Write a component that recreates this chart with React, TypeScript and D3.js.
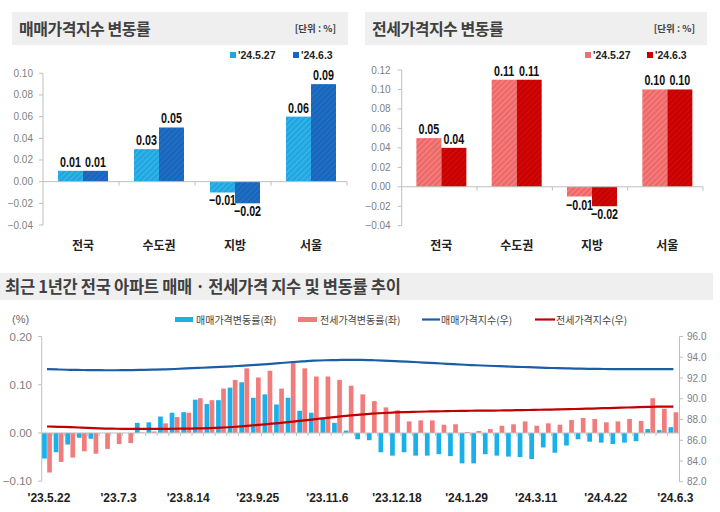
import React from 'react';
import * as d3 from 'd3';

// ---------- Top panels data ----------
const regions = ['전국', '수도권', '지방', '서울'];
const weekLabels = ["'24.5.27", "'24.6.3"];
const saleChangeMay27 = [0.01, 0.03, -0.01, 0.06];
const saleChangeJun3 = [0.01, 0.05, -0.02, 0.09];
const jeonseChangeMay27 = [0.05, 0.11, -0.01, 0.1];
const jeonseChangeJun3 = [0.04, 0.11, -0.02, 0.1];
const saleTicks = [0.1, 0.08, 0.06, 0.04, 0.02, 0.0, -0.02, -0.04];
const jeonseTicks = [0.12, 0.1, 0.08, 0.06, 0.04, 0.02, 0.0, -0.02, -0.04];

// ---------- Bottom panel data (weekly, '23.5.22 ~ '24.6.3) ----------
const trendDateLabels = ["'23.5.22", "'23.7.3", "'23.8.14", "'23.9.25", "'23.11.6", "'23.12.18", "'24.1.29", "'24.3.11", "'24.4.22", "'24.6.3"];
const weeklySaleChange = [
  -0.053, -0.04, -0.024, -0.01, -0.012, 0.0, 0.0, 0.0, 0.021, 0.022,
  0.034, 0.042, 0.043, 0.069, 0.06, 0.068, 0.094, 0.105, 0.073, 0.08,
  0.059, 0.073, 0.046, 0.042, 0.031, 0.021, 0.005, -0.013, -0.015, -0.04,
  -0.047, -0.04, -0.047, -0.047, -0.044, -0.048, -0.063, -0.063, -0.044, -0.047,
  -0.049, -0.05, -0.054, -0.03, -0.041, -0.026, -0.013, -0.018, -0.02, -0.023,
  -0.02, -0.017, 0.008, 0.006, 0.012,
];
const weeklyJeonseChange = [
  -0.082, -0.06, -0.051, -0.038, -0.043, -0.033, -0.023, -0.021, 0.001, 0.003,
  0.02, 0.033, 0.042, 0.072, 0.068, 0.092, 0.11, 0.134, 0.115, 0.129,
  0.092, 0.149, 0.134, 0.117, 0.117, 0.11, 0.098, 0.08, 0.066, 0.053,
  0.047, 0.024, 0.026, 0.026, 0.017, 0.018, 0.002, 0.004, 0.008, 0.015,
  0.018, 0.024, 0.015, 0.02, 0.017, 0.027, 0.031, 0.029, 0.022, 0.024,
  0.029, 0.025, 0.072, 0.05, 0.043,
];
const weeklySaleIndex = [
  92.86, 92.82, 92.79, 92.77, 92.76, 92.75, 92.75, 92.76, 92.78, 92.8,
  92.83, 92.87, 92.92, 92.97, 93.02, 93.08, 93.13, 93.19, 93.26, 93.34,
  93.43, 93.52, 93.6, 93.67, 93.71, 93.73, 93.75, 93.75, 93.72, 93.68,
  93.63, 93.58, 93.52, 93.46, 93.4, 93.34, 93.28, 93.23, 93.18, 93.14,
  93.1, 93.06, 93.02, 92.98, 92.95, 92.92, 92.9, 92.88, 92.87, 92.86,
  92.86, 92.86, 92.86, 92.86, 92.86,
];
const weeklyJeonseIndex = [
  87.33, 87.3, 87.27, 87.22, 87.17, 87.13, 87.11, 87.1, 87.1, 87.1,
  87.1, 87.11, 87.12, 87.14, 87.17, 87.22, 87.28, 87.36, 87.46, 87.56,
  87.66, 87.77, 87.9, 88.02, 88.14, 88.26, 88.38, 88.48, 88.56, 88.63,
  88.68, 88.72, 88.75, 88.78, 88.8, 88.82, 88.84, 88.85, 88.86, 88.87,
  88.89, 88.91, 88.93, 88.95, 88.97, 89.0, 89.03, 89.06, 89.09, 89.12,
  89.16, 89.19, 89.22, 89.24, 89.25,
];
const leftTicks = [0.2, 0.1, 0.0, -0.1];
const rightTicks = [96, 94, 92, 90, 88, 86, 84, 82];
const trendLegend = ['매매가격변동률(좌)', '전세가격변동률(좌)', '매매가격지수(우)', '전세가격지수(우)'];

const KR = "'Noto Sans CJK KR', 'Noto Sans', sans-serif";
const NUM = "'Liberation Sans', Arial, sans-serif";

const AXIS = '#bfbfbf';
const TICKTXT = '#808080';

type PanelProps = {
  x0: number; x1: number; yTop: number; yBot: number;
  domain: [number, number]; ticks: number[];
  a: number[]; b: number[];
  fillA: string; fillB: string; legA: string; legB: string;
  title: string; boxX: number; boxW: number; legX: number[]; tickDx: number;
};

function BarPanel(p: PanelProps) {
  const y = d3.scaleLinear().domain(p.domain).range([p.yBot, p.yTop]);
  const x = d3.scaleBand<string>().domain(regions).range([p.x0, p.x1]);
  const inner = d3.scaleBand<number>().domain([0, 1]).range([0, 50]);
  const zero = y(0);
  const series = [p.a, p.b];
  const fills = [p.fillA, p.fillB];
  return (
    <g>
      <rect x={p.boxX} y={12} width={p.boxW} height={33} fill="#efefef" />
      <text x={p.boxX + 7} y={35} fontFamily={KR} fontWeight={700} fontSize={16} letterSpacing={-0.5} fill="#404040">{p.title}</text>
      <text x={p.boxX + p.boxW - 12} y={32} textAnchor="end" fontFamily={KR} fontWeight={700} fontSize={9.5} fill="#404040">[단위 : %]</text>
      {[p.legA, p.legB].map((c, i) => (
        <g key={i}>
          <rect x={p.legX[i]} y={52} width={6} height={6} fill={c} />
          <text x={p.legX[i] + 8} y={59} fontFamily={NUM} fontWeight={700} fontSize={10.5} fill="#222">{weekLabels[i]}</text>
        </g>
      ))}
      <line x1={p.x0} x2={p.x0} y1={y(p.domain[1])} y2={p.yBot} stroke={AXIS} />
      {p.ticks.map((t) => (
        <g key={t}>
          <line x1={p.x0 - 4} x2={p.x0} y1={y(t)} y2={y(t)} stroke={AXIS} />
          <text x={p.x0 - p.tickDx} y={y(t) + 3.5} textAnchor="end" fontFamily={NUM} fontSize={10} fill={TICKTXT}>{d3.format('.2f')(t)}</text>
        </g>
      ))}
      {series.map((s, si) =>
        s.map((v, i) => {
          const bx = (x(regions[i]) as number) + (x.bandwidth() - 50) / 2 + 2 + (inner(si) as number);
          const top = Math.min(y(v), zero);
          const h = Math.abs(y(v) - zero);
          const lx = bx + inner.bandwidth() / 2;
          const ly = v >= 0 ? y(v) - 4 : y(v) + 13;
          return (
            <g key={si + '-' + i}>
              <rect x={bx} y={top} width={inner.bandwidth()} height={h} fill={fills[si]} />
              <text transform={`translate(${lx},${ly}) scale(0.74,1)`} textAnchor="middle" fontFamily={NUM} fontWeight={700} fontSize={14.5} fill="#111">{d3.format('.2f')(v)}</text>
            </g>
          );
        })
      )}
      <line x1={p.x0} x2={p.x1} y1={zero} y2={zero} stroke={AXIS} />
      {regions.map((r) => (
        <line key={r} x1={(x(r) as number) + x.bandwidth()} x2={(x(r) as number) + x.bandwidth()} y1={zero} y2={zero + 4} stroke={AXIS} />
      ))}
      {regions.map((r) => (
        <text key={r} x={(x(r) as number) + x.bandwidth() / 2 + 2} y={250} textAnchor="middle" fontFamily={KR} fontWeight={700} fontSize={12} fill="#222">{r}</text>
      ))}
    </g>
  );
}

function Hatch({ id, base, stripe }: { id: string; base: string; stripe: string }) {
  return (
    <pattern id={id} patternUnits="userSpaceOnUse" width={4} height={4} patternTransform="rotate(45)">
      <rect width={4} height={4} fill={base} />
      <rect width={1.3} height={4} fill={stripe} />
    </pattern>
  );
}

function Trend() {
  const n = weeklySaleChange.length;
  const x = d3.scaleBand<number>().domain(d3.range(n)).range([41.2, 679.2]);
  const yL = d3.scaleLinear().domain([-0.1, 0.2]).range([481.2, 336.5]);
  const yR = d3.scaleLinear().domain([82, 96]).range([481.8, 336.5]);
  const zero = yL(0);
  const cx = (i: number) => (x(i) as number) + x.bandwidth() / 2;
  const bw = 4.7;
  const line = d3.line<number>().x((_, i) => cx(i)).y((v) => yR(v)).curve(d3.curveMonotoneX);
  const labelIdx = trendDateLabels.map((_, k) => k * 6);
  return (
    <g>
      <rect x={0} y={273} width={713} height={27} fill="#efefef" />
      <text x={5} y={293} fontFamily={KR} fontWeight={700} fontSize={16.5} letterSpacing={-0.3} fill="#404040">최근 1년간 전국 아파트 매매 · 전세가격 지수 및 변동률 추이</text>
      <text x={12} y={323} fontFamily={NUM} fontSize={11} fill="#666">(%)</text>
      <rect x={175} y={317} width={18} height={5} fill="#1ab0ea" />
      <text x={196} y={323.5} fontFamily={KR} fontSize={10} fill="#444">{trendLegend[0]}</text>
      <rect x={298} y={317} width={19} height={5} fill="#f27c7c" />
      <text x={320} y={323.5} fontFamily={KR} fontSize={10} fill="#444">{trendLegend[1]}</text>
      <line x1={422} x2={440} y1={319.5} y2={319.5} stroke="#1a5ea8" strokeWidth={2.2} />
      <text x={441} y={323.5} fontFamily={KR} fontSize={10} fill="#444">{trendLegend[2]}</text>
      <line x1={535} x2={555} y1={319.5} y2={319.5} stroke="#c00000" strokeWidth={2.2} />
      <text x={556} y={323.5} fontFamily={KR} fontSize={10} fill="#444">{trendLegend[3]}</text>
      <line x1={41.7} x2={41.7} y1={yL(0.2)} y2={yL(-0.1)} stroke={AXIS} />
      {leftTicks.map((t) => (
        <g key={t}>
          <line x1={38} x2={41.7} y1={yL(t)} y2={yL(t)} stroke={AXIS} />
          <text x={32} y={yL(t) + 4} textAnchor="end" fontFamily={NUM} fontSize={11.5} fill={TICKTXT}>{d3.format('.2f')(t)}</text>
        </g>
      ))}
      <line x1={679.5} x2={679.5} y1={yR(96)} y2={yR(82)} stroke={AXIS} />
      {rightTicks.map((t) => (
        <g key={t}>
          <line x1={679.5} x2={683} y1={yR(t)} y2={yR(t)} stroke={AXIS} />
          <text x={687} y={yR(t) + 3.5} fontFamily={NUM} fontSize={10} fill={TICKTXT}>{d3.format('.1f')(t)}</text>
        </g>
      ))}
      {weeklySaleChange.map((v, i) => (
        <rect key={'s' + i} x={cx(i) - bw - 0.2} y={Math.min(yL(v), zero)} width={bw} height={Math.abs(yL(v) - zero)} fill="#1ab0ea" />
      ))}
      {weeklyJeonseChange.map((v, i) => (
        <rect key={'j' + i} x={cx(i) + 0.2} y={Math.min(yL(v), zero)} width={bw} height={Math.abs(yL(v) - zero)} fill="#f27c7c" />
      ))}
      <line x1={41.7} x2={679.5} y1={zero} y2={zero} stroke={AXIS} />
      {d3.range(1, n).map((i) => (
        <line key={'t' + i} x1={x(i) as number} x2={x(i) as number} y1={zero} y2={zero + 3} stroke={AXIS} />
      ))}
      <path d={line(weeklySaleIndex) || ''} fill="none" stroke="#1a5ea8" strokeWidth={2.2} />
      <path d={line(weeklyJeonseIndex) || ''} fill="none" stroke="#c00000" strokeWidth={2.2} />
      {labelIdx.map((idx, k) => (
        <text key={k} x={cx(idx) + 2} y={502} textAnchor="middle" fontFamily={NUM} fontWeight={700} fontSize={12} fill="#222">{trendDateLabels[k]}</text>
      ))}
    </g>
  );
}

export default function App() {
  return (
    <svg width={720} height={512} style={{ position: 'absolute', left: 0, top: 0, background: '#fff' }}>
      <defs>
        <Hatch id="hLightBlue" base="#1fa6e0" stripe="#3db6ea" />
        <Hatch id="hDarkBlue" base="#1765bd" stripe="#2573c6" />
        <Hatch id="hLightRed" base="#ef6767" stripe="#f38686" />
        <Hatch id="hDarkRed" base="#c80000" stripe="#d20c0c" />
      </defs>
      <rect width={720} height={512} fill="#fff" />
      <BarPanel
        x0={43} x1={347} yTop={73.3} yBot={225} domain={[-0.04, 0.1]} ticks={saleTicks}
        a={saleChangeMay27} b={saleChangeJun3}
        fillA="url(#hLightBlue)" fillB="url(#hDarkBlue)" legA="#1fa6e0" legB="#1765bd"
        title="매매가격지수 변동률" boxX={12} boxW={336} legX={[230, 293]} tickDx={10}
      />
      <BarPanel
        x0={401.7} x1={703} yTop={70} yBot={225.7} domain={[-0.04, 0.12]} ticks={jeonseTicks}
        a={jeonseChangeMay27} b={jeonseChangeJun3}
        fillA="url(#hLightRed)" fillB="url(#hDarkRed)" legA="#f07070" legB="#c80000"
        title="전세가격지수 변동률" boxX={365} boxW={342} legX={[585, 647]} tickDx={11}
      />
      <Trend />
    </svg>
  );
}
